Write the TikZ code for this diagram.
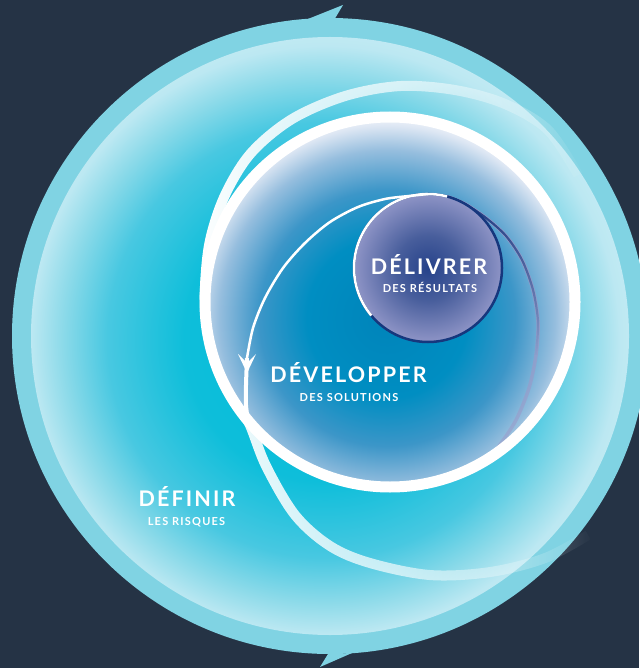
\documentclass[tikz,border=0pt]{standalone}
\usepackage{fontspec}
\setmainfont{Lato}
\newfontfamily\ttlfont{Lato}[LetterSpace=10]
\newfontfamily\subfont{Lato}[LetterSpace=11]
\usetikzlibrary{fadings}

\definecolor{bg}{RGB}{37,51,69}
\definecolor{band}{RGB}{128,211,227}
\definecolor{navy}{RGB}{22,55,125}
\definecolor{lav}{RGB}{155,153,200}
% big disc
\definecolor{bdA}{RGB}{0,188,216}
\definecolor{bdB}{RGB}{14,190,218}
\definecolor{bdC}{RGB}{72,200,225}
\definecolor{bdD}{RGB}{140,218,233}
\definecolor{bdE}{RGB}{188,232,242}
\definecolor{bdF}{RGB}{198,236,244}
% middle disc
\definecolor{mdA}{RGB}{0,132,186}
\definecolor{mdB}{RGB}{0,142,194}
\definecolor{mdC}{RGB}{60,150,200}
\definecolor{mdD}{RGB}{150,190,222}
\definecolor{mdE}{RGB}{220,230,243}
\definecolor{mdF}{RGB}{238,242,249}
% small circle
\definecolor{scA}{RGB}{38,66,138}
\definecolor{scB}{RGB}{72,94,156}
\definecolor{scC}{RGB}{142,148,198}

\pgfdeclareradialshading{bigdisc}{\pgfpoint{0bp}{0bp}}{color(0bp)=(bdA); color(11bp)=(bdB); color(17bp)=(bdC); color(20.5bp)=(bdD); color(23bp)=(bdE); color(25bp)=(bdF); color(50bp)=(bdF)}
\pgfdeclareradialshading{middisc}{\pgfpoint{0bp}{0bp}}{color(0bp)=(mdA); color(10bp)=(mdB); color(16bp)=(mdC); color(21bp)=(mdD); color(24bp)=(mdE); color(25bp)=(mdF); color(50bp)=(mdF)}
\pgfdeclareradialshading{smallc}{\pgfpoint{0bp}{0bp}}{color(0bp)=(scA); color(11bp)=(scB); color(25bp)=(scC); color(50bp)=(scC)}

\tikzfading[name=spiralfade, left color=transparent!0, right color=transparent!100, middle color=transparent!35]
\tikzfading[name=lavfade, top color=transparent!0, bottom color=transparent!55]
\tikzfading[name=navyfade, top color=transparent!0, bottom color=transparent!100]

\tikzset{
  title/.style={font=\ttlfont\bfseries\fontsize{21.5}{22}\selectfont, text=white, anchor=base, inner sep=0pt},
  subtitle/.style={font=\subfont\bfseries\fontsize{11}{12}\selectfont, text=white, anchor=base, inner sep=0pt},
}

\begin{document}
\begin{tikzpicture}[x=1pt,y=-1pt]
\fill[bg] (0,0) rectangle (639,668);
\useasboundingbox (0,0) rectangle (639,668);

% outer band with arrow barbs
\fill[band] (330,336) circle (318);
\fill[band] (308,19) -- (343,5) -- (335,18.5) -- cycle;
\fill[band] (308,38) -- (345,49) -- (337,37.5) -- cycle;
\fill[band] (352,633) -- (318,622) -- (326,635) -- cycle;
\fill[band] (352,653) -- (320,667) -- (328,654) -- cycle;

% big disc
\begin{scope}
  \clip (330,336) circle (299);
  \shade[shading=bigdisc] (325,340) circle (320);
\end{scope}

% outer white spiral band
\draw[white, line width=10, path fading=spiralfade] plot[smooth, tension=0.55] coordinates {(578,175) (548,130) (505,104) (455,90) (400,86) (345,96) (292,119) (251,153) (225,195) (210,240) (205,285) (206,320) (214,358) (229,393) (248,421) (266,466) (295,515) (330,546) (370,563) (430,575) (490,572) (545,558) (588,535)};

% middle disc
\begin{scope}
  \clip (390,302) circle (181);
  \shade[shading=middisc] (387,318) circle (200);
\end{scope}

% lavender / navy line on the right
\draw[lav, line width=3.5, path fading=lavfade] plot[smooth] coordinates {(447,196.5) (465,204) (486,218) (506,236) (522,260) (533,290) (538,322) (536,355) (529,388) (516,420) (499,446) (482,466)};
\draw[navy, line width=2.2, path fading=navyfade] plot[smooth] coordinates {(428,194) (447,196.5) (465,204) (486,218) (506,236) (522,260) (533,290) (538,322) (536,355)};

% thick white ring
\draw[white, line width=11] (390,302) circle (185);

% small circle
\shade[shading=smallc] (428,268) circle (74);
\draw[navy, line width=2.5] (428,268) circle (74);
\draw[white, line width=2.5] plot[domain=140:285, samples=50] ({428+74*cos(\x)},{268+74*sin(\x)});

% thin white spiral line with arrowhead
\draw[white, line width=2.5, line cap=round] plot[smooth] coordinates {(428,194) (409,196) (385,199) (358,207) (330,222) (305,243) (283,268) (265,298) (253,328) (247,358)};
\draw[white, line width=4] plot[smooth] coordinates {(247,358) (246,385) (246,405) (248,421)};
\fill[white] (238,354) -- (247,373) -- (256,354) -- (247,363) -- cycle;

% labels
\node[title] (delivrer) at (429,274.5) {DÉLIVRER};
\node[subtitle] (delivrersub) at (430,292) {DES RÉSULTATS};
\node[title] (developper) at (348.5,382.5) {DÉVELOPPER};
\node[subtitle] (developpersub) at (349,401) {DES SOLUTIONS};
\node[title] (definir) at (187,506) {DÉFINIR};
\node[subtitle] (definirsub) at (186.5,525) {LES RISQUES};
\end{tikzpicture}
\end{document}
